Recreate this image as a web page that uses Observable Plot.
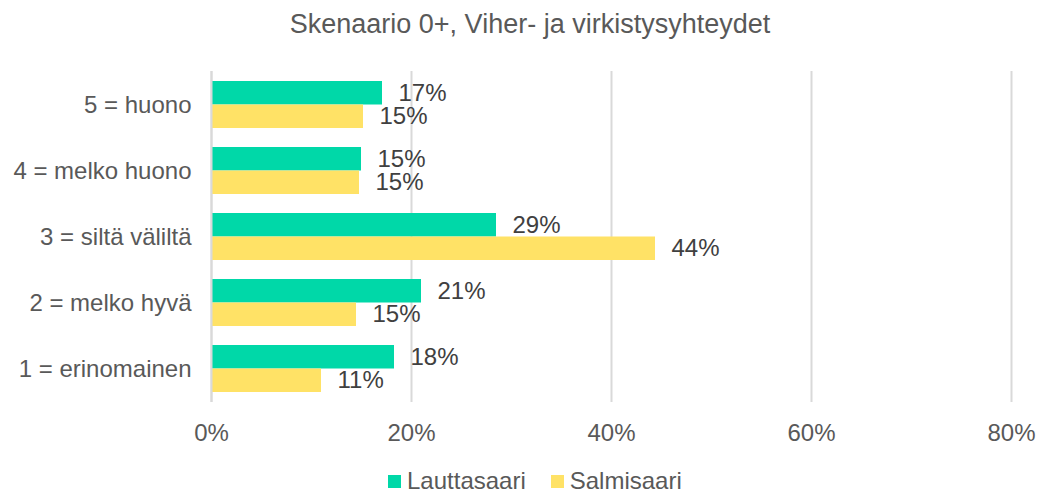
<!DOCTYPE html>
<html>
<head>
<meta charset="utf-8">
<script src="https://cdn.jsdelivr.net/npm/d3@7"></script>
<script src="https://cdn.jsdelivr.net/npm/@observablehq/plot@0.6"></script>
<style>
  html, body { margin: 0; padding: 0; background: #fff; }
  #wrap { position: relative; width: 1042px; height: 493px; font-family: "Liberation Sans", Arial, sans-serif; }
  #title { position: absolute; left: 18px; top: 0; width: 1024px; height: 48px; line-height: 48px; text-align: center; font-size: 27px; color: #595959; }
  #chart { position: absolute; left: 0; top: 50px; }
  #legend { position: absolute; left: 388px; top: 470px; height: 22px; display: flex; align-items: center; font-size: 24px; color: #595959; line-height: 22px; }
  .sw { width: 13px; height: 13px; display: inline-block; margin-right: 6px; }
  .item { display: flex; align-items: center; margin-right: 25px; }
</style>
</head>
<body>
<div id="wrap">
  <div id="title">Skenaario 0+, Viher- ja virkistysyhteydet</div>
  <div id="chart"></div>
  <div id="legend"></div>
</div>
<script>
const categories = ["5 = huono", "4 = melko huono", "3 = siltä väliltä", "2 = melko hyvä", "1 = erinomainen"];
const seriesNames = ["Lauttasaari", "Salmisaari"];
const lauttasaari = [17.1, 15.0, 28.5, 21.0, 18.3];
const salmisaari = [15.2, 14.8, 44.4, 14.5, 11.0];
const xTicks = [0, 20, 40, 60, 80];
const colors = ["#00D8A8", "#FFE266"];

const dataL = categories.map((c, i) => ({category: c, value: lauttasaari[i]}));
const dataS = categories.map((c, i) => ({category: c, value: salmisaari[i]}));
const fmt = d => Math.round(d.value) + "%";

const half = 11.75;

const plot = Plot.plot({
  width: 1042,
  height: 410,
  marginLeft: 211,
  marginRight: 31,
  marginTop: 21,
  marginBottom: 58,
  style: {fontFamily: '"Liberation Sans", Arial, sans-serif', fontSize: "24px", color: "#595959", background: "transparent"},
  x: {domain: [0, 80], ticks: xTicks, tickFormat: d => d + "%", tickSize: 0, tickPadding: 21, label: null},
  y: {domain: categories, paddingInner: 0.293, paddingOuter: 0.135, tickSize: 0, tickPadding: 20, label: null},
  marks: [
    Plot.ruleX(xTicks, {stroke: "#D9D9D9", strokeWidth: 2}),
    Plot.barX(dataL, {x1: 0, x2: "value", y: "category", fill: colors[0], insetBottom: 2 * half}),
    Plot.barX(dataS, {x1: 0, x2: "value", y: "category", fill: colors[1], insetTop: 2 * half}),
    Plot.ruleX([0], {stroke: "#D9D9D9", strokeWidth: 2}),
    Plot.text(dataL, {x: "value", y: "category", text: fmt, dx: 16, dy: -half, textAnchor: "start", fill: "#404040", fontSize: 24}),
    Plot.text(dataS, {x: "value", y: "category", text: fmt, dx: 16, dy: half, textAnchor: "start", fill: "#404040", fontSize: 24})
  ]
});
document.getElementById("chart").appendChild(plot);

const legend = document.getElementById("legend");
seriesNames.forEach((name, i) => {
  const item = document.createElement("div");
  item.className = "item";
  const sw = document.createElement("span");
  sw.className = "sw";
  sw.style.background = colors[i];
  const t = document.createElement("span");
  t.textContent = name;
  item.appendChild(sw);
  item.appendChild(t);
  legend.appendChild(item);
});
</script>
</body>
</html>
